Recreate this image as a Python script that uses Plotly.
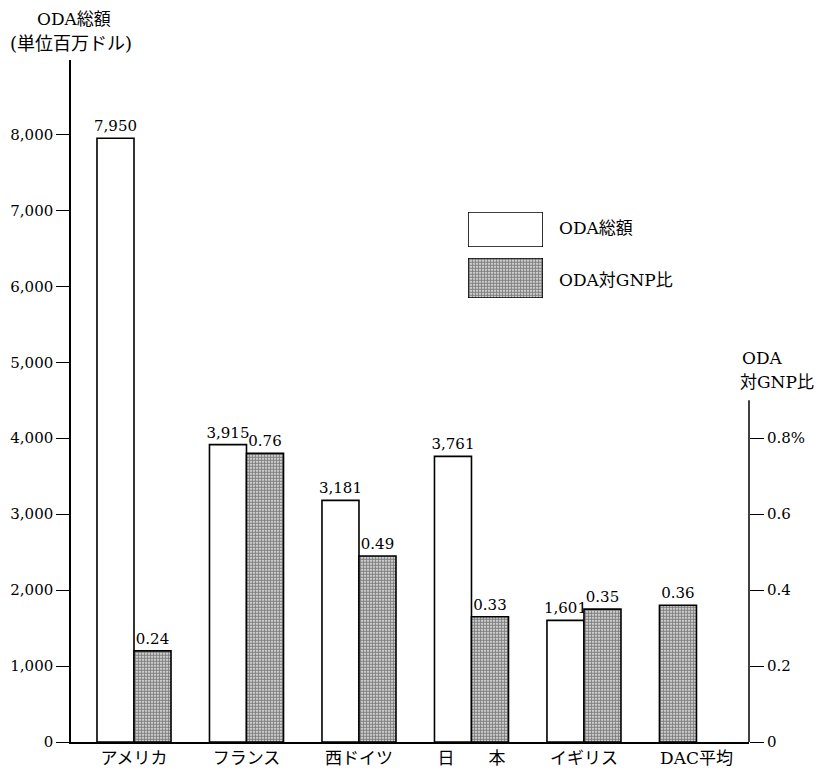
import plotly.graph_objects as go

categories = ["アメリカ", "フランス", "西ドイツ", "日　　本", "イギリス", "DAC平均"]
oda_total = [7950, 3915, 3181, 3761, 1601, None]
oda_gnp = [0.24, 0.76, 0.49, 0.33, 0.35, 0.36]
left_ticks = [0, 1000, 2000, 3000, 4000, 5000, 6000, 7000, 8000]
left_ticktext = ["0", "1,000", "2,000", "3,000", "4,000", "5,000", "6,000", "7,000", "8,000"]
right_ticks = [0, 0.2, 0.4, 0.6, 0.8]
right_ticktext = ["0", "0.2", "0.4", "0.6", "0.8%"]

FONT = "DejaVu Serif, Noto Sans CJK JP, serif"
W = 0.329
xpos = list(range(len(categories)))
white_offset = [-W] * len(categories)
gray_offset = [0 if v is not None else -W for v in oda_total]

pattern = dict(shape=".", fgcolor="black", bgcolor="white", size=3, solidity=0.7)
outline = dict(color="black", width=1.6)
valfont = dict(family=FONT, size=15, color="black")

fig = go.Figure()
fig.add_trace(go.Bar(
    x=xpos, y=oda_total, width=W, offset=white_offset,
    marker=dict(color="white", line=outline),
    texttemplate="%{y:,}", textposition="outside", cliponaxis=False, constraintext="none",
    textfont=valfont, outsidetextfont=valfont,
    name="ODA総額", showlegend=False, xaxis="x", yaxis="y"))
fig.add_trace(go.Bar(
    x=xpos, y=oda_gnp, width=W, offset=gray_offset,
    marker=dict(color="white", pattern=pattern, line=outline),
    texttemplate="%{y:.2f}", textposition="outside", cliponaxis=False, constraintext="none",
    textfont=valfont, outsidetextfont=valfont,
    name="ODA対GNP比", showlegend=False, xaxis="x", yaxis="y2"))

# legend swatches
fig.add_trace(go.Bar(x=[0], y=[1], width=1, marker=dict(color="white", line=outline),
                     showlegend=False, hoverinfo="skip", xaxis="x3", yaxis="y3"))
fig.add_trace(go.Bar(x=[0], y=[1], width=1, marker=dict(color="white", pattern=pattern, line=outline),
                     showlegend=False, hoverinfo="skip", xaxis="x4", yaxis="y4"))

# page has an 8px body margin; plot area in page pixels: x 71..749, y 60..742
OFF = 8
PX0, PX1, PY0, PY1 = 71, 749, 60, 742
FW, FH = 822 - OFF, 770 - OFF
L, T = PX0 - OFF, PY0 - OFF
R, B = FW - (PX1 - OFF), FH - (PY1 - OFF)

def px(x):
    return (x - PX0) / (PX1 - PX0)

def py(y):
    return (PY1 - y) / (PY1 - PY0)

hidden = dict(visible=False, fixedrange=True, automargin=False)
fig.update_layout(
    width=FW, height=FH,
    margin=dict(l=L, r=R, t=T, b=B, autoexpand=False),
    paper_bgcolor="white", plot_bgcolor="white",
    font=dict(family=FONT, size=16, color="black"),
    barmode="overlay",
    xaxis=dict(range=[-0.56, 5.467], tickvals=xpos, ticktext=categories, showgrid=False,
               zeroline=False, showline=True, linecolor="black", linewidth=1.5, ticks="",
               automargin=False, tickfont=dict(family=FONT, size=17)),
    yaxis=dict(range=[0, 8980], tickvals=left_ticks, ticktext=left_ticktext, showgrid=False,
               zeroline=False, showline=True, linecolor="black", linewidth=1.5,
               ticks="outside", ticklen=13, tickcolor="black", tickwidth=1.2,
               automargin=False, tickfont=dict(family=FONT, size=15)),
    yaxis2=dict(range=[0, 1.796], overlaying="y", side="right", tickvals=right_ticks,
                ticktext=right_ticktext, showgrid=False, zeroline=False, showline=False,
                ticks="outside", ticklen=14, tickcolor="black", tickwidth=1.2,
                automargin=False, tickfont=dict(family=FONT, size=15)),
    xaxis3=dict(domain=[px(468), px(543)], range=[-0.5, 0.5], anchor="y3", **hidden),
    yaxis3=dict(domain=[py(247), py(212)], range=[0, 1], anchor="x3", **hidden),
    xaxis4=dict(domain=[px(468), px(543)], range=[-0.5, 0.5], anchor="y4", **hidden),
    yaxis4=dict(domain=[py(298), py(258)], range=[0, 1], anchor="x4", **hidden),
    shapes=[dict(type="line", xref="paper", x0=1, x1=1, yref="y2", y0=0, y1=0.9,
                 line=dict(color="black", width=1.5))],
    annotations=[
        dict(text="ODA総額", xref="paper", yref="paper", x=px(557), y=py(228), xanchor="left",
             yanchor="middle", showarrow=False, font=dict(size=17)),
        dict(text="ODA対GNP比", xref="paper", yref="paper", x=px(557), y=py(280), xanchor="left",
             yanchor="middle", showarrow=False, font=dict(size=17)),
        dict(text="ODA総額", xref="paper", yref="paper", x=px(74), y=py(19), xanchor="center",
             yanchor="middle", showarrow=False, font=dict(size=17)),
        dict(text="(単位百万ドル)", xref="paper", yref="paper", x=px(71), y=py(43), xanchor="center",
             yanchor="middle", showarrow=False, font=dict(size=18)),
        dict(text="ODA", xref="paper", yref="paper", x=px(740), y=py(358), xanchor="left",
             yanchor="middle", showarrow=False, font=dict(size=17)),
        dict(text="対GNP比", xref="paper", yref="paper", x=px(738), y=py(382), xanchor="left",
             yanchor="middle", showarrow=False, font=dict(size=17)),
    ],
)

fig.write_html("out.html")
